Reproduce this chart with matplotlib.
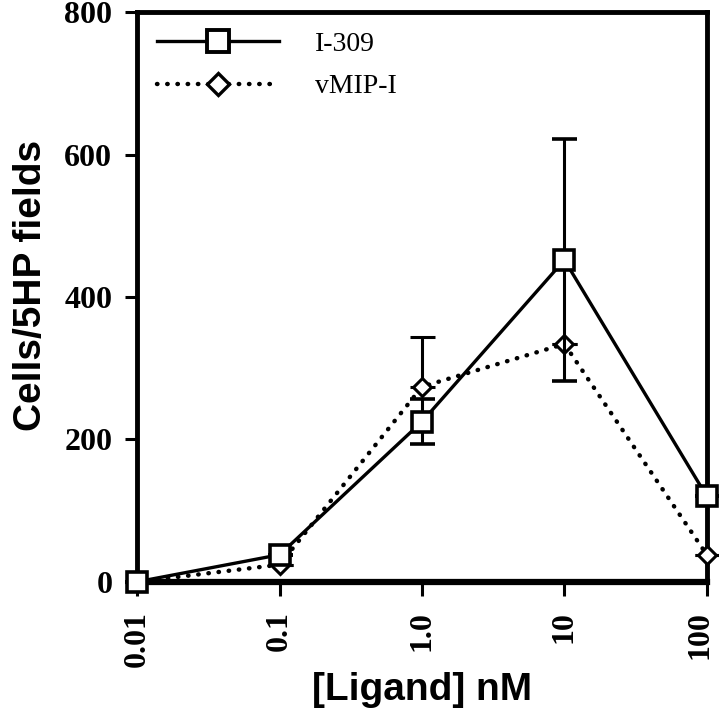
import matplotlib.pyplot as plt
import matplotlib.transforms as mtransforms
from matplotlib.lines import Line2D

# concentrations (nM) shown as evenly spaced categories
conc_labels = ["0.01", "0.1", "1.0", "10", "100"]

i309 = [0, 38, 225, 452, 120]
i309_err = [0, 0, 32, 170, 0]

vmip = [0, 24, 274, 334, 38]
vmip_err = [0, 0, 70, 0, 0]

y_ticks = [0, 200, 400, 600, 800]

serif = "Liberation Serif"
sans = "Liberation Sans"
dots = (0, (0.1, 2.2))

fig = plt.figure(figsize=(7.19, 7.2), dpi=100)
ax = fig.add_axes([0.191, 0.192, 0.792, 0.791])

x = list(range(len(conc_labels)))

ax.errorbar(x, vmip, yerr=[[0] * 5, vmip_err], color="black", linestyle="none",
            marker="D", markersize=9, markerfacecolor="white",
            markeredgecolor="black", markeredgewidth=2.2, capsize=9,
            elinewidth=2.2, capthick=2.2, zorder=3)
ax.plot(x, vmip, color="black", linestyle=dots, linewidth=3.2,
        dash_capstyle="round", zorder=2)

ax.errorbar(x, i309, yerr=i309_err, color="black", linestyle="-",
            linewidth=2.4, marker="s", markersize=14, markerfacecolor="white",
            markeredgecolor="black", markeredgewidth=2.6, capsize=9,
            elinewidth=2.2, capthick=2.2, zorder=4)

ax.set_xlim(0, 4)
ax.set_ylim(0, 800)
ax.set_xticks(x)
ax.set_xticklabels(conc_labels, rotation=90, fontfamily=serif,
                   fontweight="bold", fontsize=23)
ax.set_yticks(y_ticks)
ax.set_yticklabels([str(v) for v in y_ticks], fontfamily=serif,
                   fontweight="bold", fontsize=23)
ax.tick_params(axis="y", direction="out", length=9, width=2.2, pad=9)
ax.tick_params(axis="x", direction="out", length=10, width=2.2, pad=11)

# nudge the last x label so it stays inside the figure
last = ax.get_xticklabels()[-1]
last.set_transform(last.get_transform() +
                   mtransforms.ScaledTranslation(-5 / 72, 0, fig.dpi_scale_trans))

for side in ["left", "bottom", "top", "right"]:
    ax.spines[side].set_linewidth(3.5)
ax.spines["bottom"].set_linewidth(4.5)

ax.set_xlabel("[Ligand] nM", fontfamily=sans, fontweight="bold",
              fontsize=28, labelpad=4)
ax.set_ylabel("Cells/5HP fields", fontfamily=sans, fontweight="bold",
              fontsize=28)
ax.yaxis.set_label_coords(-0.155, 0.52)

handles = [
    Line2D([], [], color="black", linestyle="-", linewidth=2.4, marker="s",
           markersize=16, markerfacecolor="white", markeredgecolor="black",
           markeredgewidth=2.8),
    Line2D([], [], color="black", linestyle=dots, linewidth=3.2,
           dash_capstyle="round", marker="D", markersize=11,
           markerfacecolor="white", markeredgecolor="black",
           markeredgewidth=2.4),
]
ax.legend(handles, ["I-309", "vMIP-I"], loc="upper left", frameon=False,
          prop={"family": serif, "size": 20}, handlelength=4.4,
          borderaxespad=0.3, labelspacing=0.6, handletextpad=1.3)

for artist in ax.get_children():
    artist.set_clip_on(False)

fig.savefig("out.png", dpi=100)
